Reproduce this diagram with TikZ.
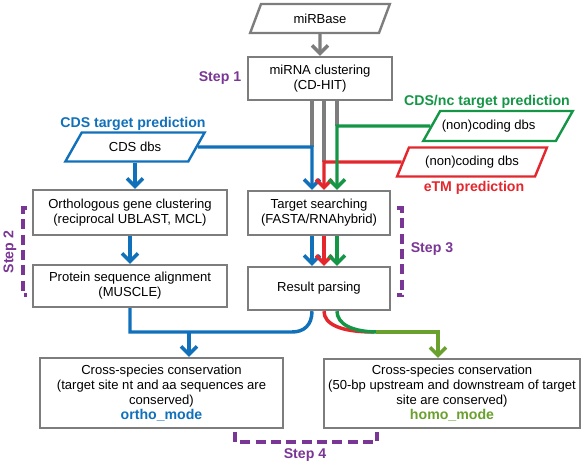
\documentclass[tikz,border=0pt]{standalone}
\usepackage{fontspec}
\setmainfont{Liberation Sans}
\usepackage{tikz}
\usetikzlibrary{shapes.geometric,arrows.meta}

\definecolor{cdsblue}{RGB}{16,112,186}
\definecolor{ncgreen}{RGB}{20,150,70}
\definecolor{etmred}{RGB}{228,38,45}
\definecolor{homogreen}{RGB}{106,160,46}
\definecolor{steppurple}{RGB}{122,54,148}
\definecolor{boxgray}{RGB}{125,125,125}

\newcommand{\boxfont}{\fontsize{9.8}{11.25}\selectfont}
\newcommand{\labfont}{\fontsize{10.6}{12.5}\selectfont\bfseries}

\begin{document}
\begin{tikzpicture}[x=0.75pt,y=0.75pt,yscale=-1,xscale=1,
    box/.style={draw=boxgray,line width=1.8pt,fill=white,inner sep=0pt,align=center,font=\boxfont},
    dbbox/.style={trapezium,trapezium stretches=true,trapezium left angle=#1,trapezium right angle=180-#1,
        line width=1.8pt,fill=white,inner sep=0pt,font=\boxfont,minimum height=21.75pt},
    flow/.style={line width=2.6pt,-{Straight Barb[length=6pt,width=12pt]}},
    plain/.style={line width=2.6pt},
    steplabel/.style={text=steppurple,font=\labfont},
    stepdash/.style={draw=steppurple,line width=2.5pt,dash pattern=on 7.5pt off 4pt}]
    \path[use as bounding box] (0,0) rectangle (584,466);

    % Boxes
    \node[dbbox=63,draw=boxgray,minimum width=105pt] (mirbase) at (320,18.5) {miRBase};
    \node[box,minimum width=108pt,minimum height=32.25pt] (mirna) at (320,78.5) {miRNA clustering\\(CD-HIT)};
    \node[dbbox=50,draw=cdsblue,minimum width=105pt] (cdsdbs) at (135,147) {CDS dbs};
    \node[dbbox=48,draw=ncgreen,minimum width=112.5pt,minimum height=22.5pt] (ncdbs) at (498,126) {\hspace*{-14pt}(non)coding dbs};
    \node[dbbox=54,draw=etmred,minimum width=113pt] (etmdbs) at (472,162) {(non)coding dbs};
    \node[box,minimum width=145.5pt,minimum height=33.75pt] (ortho) at (130,212.5) {Orthologous gene clustering\\(reciprocal UBLAST, MCL)};
    \node[box,minimum width=145.5pt,minimum height=31.5pt] (protein) at (130,286) {Protein sequence alignment\\(MUSCLE)};
    \node[box,minimum width=106.5pt,minimum height=33pt] (target) at (319,213) {Target searching\\(FASTA/RNAhybrid)};
    \node[box,minimum width=106.5pt,minimum height=32.25pt] (result) at (319,288.5) {Result parsing};
    \node[box,minimum width=182pt,minimum height=52.5pt] (orthomode) at (161.5,393) {Cross-species conservation\\(target site nt and aa sequences are\\conserved)\\{\fontsize{10.6}{11.25}\selectfont\bfseries\color{cdsblue}ortho\_mode}};
    \node[box,minimum width=192pt,minimum height=51.75pt] (homomode) at (452,393.5) {Cross-species conservation\\(50-bp upstream and downstream of target\\site are conserved)\\{\fontsize{10.6}{11.25}\selectfont\bfseries\color{homogreen}homo\_mode}};

    % Text Node
    \node[text=cdsblue,font=\labfont] (cdslab) at (133,124) {CDS target prediction};
    \node[text=ncgreen,font=\labfont] (nclab) at (487,102) {CDS/nc target prediction};
    \node[text=etmred,font=\labfont] (etmlab) at (474,188) {eTM prediction};
    \node[steplabel] (step1) at (220,78) {Step 1};
    \node[steplabel,rotate=90] (step2) at (10,252) {Step 2};
    \node[steplabel] (step3) at (432,249) {Step 3};
    \node[steplabel] (step4) at (305,455) {Step 4};

    % lanes
    \coordinate (blane) at (312,147);
    \coordinate (rlane) at (324,162);
    \coordinate (glane) at (337,126);
    \coordinate (bdrop) at (189,332);
    \coordinate (hdrop) at (438,332);

    % Straight Lines
    \draw[flow,draw=boxgray] (mirbase.south) -- (mirna.north);
    \draw[plain,draw=boxgray] (mirna.south -| blane) -- (blane);
    \draw[plain,draw=boxgray] (mirna.south -| rlane) -- (rlane);
    \draw[plain,draw=boxgray] (mirna.south -| glane) -- (glane);
    \draw[flow,draw=cdsblue] (cdsdbs.east) -- (blane) -- (blane |- target.north);
    \draw[flow,draw=etmred] (etmdbs.west) -- (rlane) -- (rlane |- target.north);
    \draw[flow,draw=ncgreen] (ncdbs.west) -- (glane) -- (glane |- target.north);
    \draw[flow,draw=cdsblue] (cdsdbs.south) -- (cdsdbs.south |- ortho.north);
    \draw[flow,draw=cdsblue] (ortho.south) -- (protein.north);
    \draw[flow,draw=cdsblue] (target.south -| blane) -- (result.north -| blane);
    \draw[flow,draw=etmred] (target.south -| rlane) -- (result.north -| rlane);
    \draw[flow,draw=ncgreen] (target.south -| glane) -- (result.north -| glane);

    % Curves
    \draw[plain,draw=cdsblue] (protein.south) -- (protein.south |- bdrop) -- (292,332) .. controls (304,332) and (312,325) .. (result.south -| blane);
    \draw[flow,draw=cdsblue] (bdrop) -- (bdrop |- orthomode.north);
    \draw[plain,draw=etmred] (result.south -| rlane) .. controls (324,324) and (340,332) .. (374,332);
    \draw[plain,draw=ncgreen] (result.south -| glane) .. controls (337,324) and (352,332) .. (378,332);
    \draw[flow,draw=homogreen] (376,332) -- (hdrop) -- (hdrop |- homomode.north);

    % Steps
    \draw[stepdash] (27,208) -- (23,208) -- (23,295) -- (27,295);
    \draw[stepdash] (397,208) -- (402,208) -- (402,295) -- (397,295);
    \draw[stepdash] (235,432) -- (235,442) -- (377,442) -- (377,432);
\end{tikzpicture}
\end{document}
